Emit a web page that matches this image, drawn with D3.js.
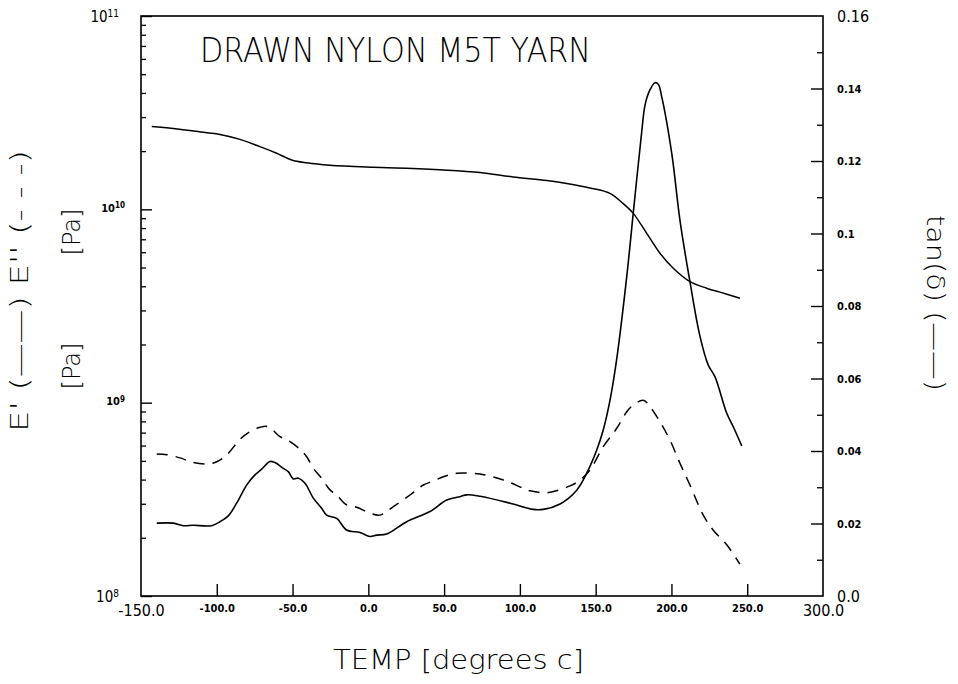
<!DOCTYPE html>
<html>
<head>
<meta charset="utf-8">
<script src="https://cdn.jsdelivr.net/npm/d3@7"></script>
<style>
  html, body { margin: 0; padding: 0; background: #fff; }
  svg { display: block; }
  .tick text { fill: #000; }
</style>
</head>
<body>
<svg id="chart" width="958" height="684"></svg>
<script>
// Storage modulus E' (Pa) vs temperature (°C)
const tempStorage = [-142.9, -128.7, -106.6, -97.9, -84.7, -71.5, -60.5, -50.6, -40.7, -25.3, 3.3, 25.3, 47.3, 73.7, 95.4, 117.7, 130.9, 146.2, 159.4, 168.2, 174.8, 183.7, 192.4, 201.2, 212.2, 223.2, 232.0, 245.2];
const storageModulus = [2.68e10, 2.62e10, 2.49e10, 2.44e10, 2.30e10, 2.11e10, 1.95e10, 1.80e10, 1.74e10, 1.69e10, 1.65e10, 1.63e10, 1.60e10, 1.55e10, 1.47e10, 1.41e10, 1.36e10, 1.29e10, 1.21e10, 1.07e10, 9.53e9, 7.51e9, 5.93e9, 4.96e9, 4.23e9, 3.91e9, 3.73e9, 3.47e9];

// Loss modulus E'' (Pa) vs temperature (°C)
const tempLoss = [-139.6, -133.0, -123.1, -117.7, -105.6, -100.1, -93.5, -84.7, -78.1, -71.5, -66.1, -58.3, -52.8, -45.1, -40.7, -36.3, -30.8, -25.3, -20.9, -14.3, -7.7, 1.1, 7.7, 16.5, 27.5, 36.3, 42.9, 49.5, 58.3, 69.3, 73.7, 89.1, 102.2, 106.7, 117.7, 133.1, 139.7, 146.3, 155.0, 163.9, 170.5, 174.8, 181.4, 185.8, 192.4, 199.0, 205.6, 212.2, 221.0, 227.6, 236.5, 245.2];
const lossModulus = [5.43e8, 5.38e8, 5.15e8, 4.95e8, 4.82e8, 4.95e8, 5.36e8, 6.46e8, 7.08e8, 7.46e8, 7.51e8, 6.67e8, 6.36e8, 5.74e8, 5.25e8, 4.58e8, 4.06e8, 3.54e8, 3.33e8, 2.96e8, 2.88e8, 2.68e8, 2.62e8, 2.90e8, 3.33e8, 3.75e8, 3.93e8, 4.14e8, 4.31e8, 4.31e8, 4.28e8, 3.98e8, 3.61e8, 3.50e8, 3.42e8, 3.71e8, 3.98e8, 4.49e8, 5.92e8, 7.37e8, 8.98e8, 9.72e8, 1.03e9, 9.53e8, 7.97e8, 6.41e8, 4.86e8, 3.75e8, 2.62e8, 2.19e8, 1.84e8, 1.46e8];

// Loss tangent tan(δ) vs temperature (°C)
const tempTan = [-139.6, -128.7, -122.1, -115.5, -103.4, -97.9, -92.4, -86.9, -80.3, -74.8, -70.4, -64.9, -61.6, -56.1, -52.8, -49.5, -46.2, -41.8, -36.3, -30.8, -27.5, -20.9, -14.3, -5.5, 1.1, 5.5, 12.1, 25.3, 40.7, 51.7, 60.5, 64.9, 73.7, 93.5, 108.8, 115.4, 126.5, 137.5, 144.1, 150.7, 155.0, 159.5, 163.9, 170.5, 174.8, 180.4, 182.6, 185.8, 189.1, 191.3, 193.6, 200.2, 205.6, 212.2, 218.8, 224.3, 228.7, 236.5, 240.8, 246.4];
const tanDelta = [0.0201, 0.0201, 0.0194, 0.0195, 0.0194, 0.0205, 0.0221, 0.0256, 0.0306, 0.0334, 0.0350, 0.0371, 0.0368, 0.0352, 0.0343, 0.0323, 0.0325, 0.0311, 0.0270, 0.0242, 0.0223, 0.0214, 0.0182, 0.0175, 0.0164, 0.0168, 0.0171, 0.0205, 0.0233, 0.0265, 0.0274, 0.0279, 0.0275, 0.0256, 0.0239, 0.0239, 0.0254, 0.0292, 0.0339, 0.0403, 0.0458, 0.0541, 0.0654, 0.0881, 0.1056, 0.1281, 0.1355, 0.1396, 0.1416, 0.1412, 0.1377, 0.1221, 0.1037, 0.0867, 0.0717, 0.0637, 0.0605, 0.0504, 0.0467, 0.0414];

// Axis ticks
const tempTicks = [-150, -100, -50, 0, 50, 100, 150, 200, 250, 300];
const tempTickLabels = ["-150.0", "-100.0", "-50.0", "0.0", "50.0", "100.0", "150.0", "200.0", "250.0", "300.0"];
const modulusDecades = [1e8, 1e9, 1e10, 1e11];
const modulusExponents = ["8", "9", "10", "11"];
const tanTicks = [0, 0.02, 0.04, 0.06, 0.08, 0.1, 0.12, 0.14, 0.16];
const tanTickLabels = ["0.0", "0.02", "0.04", "0.06", "0.08", "0.1", "0.12", "0.14", "0.16"];
const tanMinorTicks = [0.01, 0.03, 0.05, 0.07, 0.09, 0.11, 0.13, 0.15];

const svg = d3.select("#chart");
const L = 141, T = 16, W = 682, H = 580;
const R = L + W, B = T + H;

const x = d3.scaleLinear().domain([-150, 300]).range([L, R]);
const yMod = d3.scaleLog().domain([1e8, 1e11]).range([B, T]);
const yTan = d3.scaleLinear().domain([0, 0.16]).range([B, T]);

const narrow = "'Liberation Sans Narrow', 'DejaVu Sans Condensed', sans-serif";
const light = "'DejaVu Sans', 'Lato', sans-serif";

// Frame
svg.append("rect")
  .attr("x", L).attr("y", T).attr("width", W).attr("height", H)
  .attr("fill", "none").attr("stroke", "#000").attr("stroke-width", 1.6);

// Bottom axis: ticks point inward
const xAxis = svg.append("g")
  .attr("transform", `translate(0,${B})`)
  .call(d3.axisBottom(x).tickValues(tempTicks).tickSize(-12).tickPadding(6)
    .tickFormat((d, i) => tempTickLabels[i]));
xAxis.select(".domain").remove();
xAxis.selectAll(".tick line").attr("stroke", "#000").attr("stroke-width", 1.4);
xAxis.selectAll(".tick text")
  .attr("font-family", narrow)
  .attr("font-size", (d, i) => (i === 0 || i === tempTicks.length - 1) ? 16 : 11)
  .attr("font-weight", (d, i) => (i === 0 || i === tempTicks.length - 1) ? 400 : 700)
  .attr("dy", (d, i) => (i === 0 || i === tempTicks.length - 1) ? "0.85em" : "0.9em");
xAxis.selectAll(".tick").filter((d, i) => i === 0 || i === tempTicks.length - 1).select("line").remove();

// Left log axis: minor ticks
const minorMod = [];
[1e8, 1e9, 1e10].forEach(dec => { for (let k = 2; k <= 9; k++) minorMod.push(dec * k); });
const yMinor = svg.append("g")
  .attr("transform", `translate(${L},0)`)
  .call(d3.axisLeft(yMod).tickValues(minorMod).tickSize(-5).tickFormat(""));
yMinor.select(".domain").remove();
yMinor.selectAll(".tick line").attr("stroke", "#000").attr("stroke-width", 1.3);

// Left log axis: decades
const yMajor = svg.append("g")
  .attr("transform", `translate(${L},0)`)
  .call(d3.axisLeft(yMod).tickValues(modulusDecades).tickSize(-11).tickPadding(18).tickFormat(""));
yMajor.select(".domain").remove();
yMajor.selectAll(".tick line").attr("stroke", "#000").attr("stroke-width", 1.4);
yMajor.selectAll(".tick").each(function (d, i) {
  const big = (i === 0 || i === modulusDecades.length - 1);
  const t = d3.select(this).select("text")
    .attr("x", big ? -22 : -16)
    .attr("dy", big ? "0.35em" : "0.2em")
    .attr("font-family", narrow)
    .attr("font-size", big ? 15 : 11)
    .attr("font-weight", big ? 400 : 700);
  t.append("tspan").text("10");
  t.append("tspan").attr("dy", "-0.45em").attr("font-size", big ? 10 : 8).text(modulusExponents[i]);
});

// Right linear axis for tan(δ)
const yRMinor = svg.append("g")
  .attr("transform", `translate(${R},0)`)
  .call(d3.axisRight(yTan).tickValues(tanMinorTicks).tickSize(-6).tickFormat(""));
yRMinor.select(".domain").remove();
yRMinor.selectAll(".tick line").attr("stroke", "#000").attr("stroke-width", 1.3);

const yRight = svg.append("g")
  .attr("transform", `translate(${R},0)`)
  .call(d3.axisRight(yTan).tickValues(tanTicks).tickSize(-12).tickPadding(14)
    .tickFormat((d, i) => tanTickLabels[i]));
yRight.select(".domain").remove();
yRight.selectAll(".tick line").attr("stroke", "#000").attr("stroke-width", 1.4);
yRight.selectAll(".tick").filter((d, i) => i === 0 || i === tanTicks.length - 1).select("line").remove();
yRight.selectAll(".tick text")
  .attr("font-family", narrow)
  .attr("font-size", (d, i) => (i === 0 || i === tanTicks.length - 1) ? 16 : 11)
  .attr("font-weight", (d, i) => (i === 0 || i === tanTicks.length - 1) ? 400 : 700)
  .attr("dy", "0.35em");

// Curves
const lineMod = d3.line().x(d => x(d[0])).y(d => yMod(d[1])).curve(d3.curveCatmullRom.alpha(0.5));
const lineTan = d3.line().x(d => x(d[0])).y(d => yTan(d[1])).curve(d3.curveCatmullRom.alpha(0.5));

svg.append("path")
  .datum(d3.zip(tempStorage, storageModulus))
  .attr("d", lineMod)
  .attr("fill", "none").attr("stroke", "#000").attr("stroke-width", 1.5);

svg.append("path")
  .datum(d3.zip(tempLoss, lossModulus))
  .attr("d", lineMod)
  .attr("fill", "none").attr("stroke", "#000").attr("stroke-width", 1.5)
  .attr("stroke-dasharray", "11,8");

svg.append("path")
  .datum(d3.zip(tempTan, tanDelta))
  .attr("d", lineTan)
  .attr("fill", "none").attr("stroke", "#000").attr("stroke-width", 1.6);

// Titles
svg.append("text")
  .attr("x", 200).attr("y", 62)
  .attr("font-family", light).attr("font-weight", 200).attr("font-size", 33)
  .attr("textLength", 391).attr("lengthAdjust", "spacingAndGlyphs")
  .text("DRAWN NYLON M5T YARN");

svg.append("text")
  .attr("x", 333).attr("y", 669)
  .attr("font-family", light).attr("font-weight", 200).attr("font-size", 27)
  .attr("textLength", 251).attr("lengthAdjust", "spacingAndGlyphs")
  .text("TEMP [degrees c]");

svg.append("text")
  .attr("transform", "translate(28,291) rotate(-90)")
  .attr("text-anchor", "middle")
  .attr("font-family", light).attr("font-weight", 200).attr("font-size", 24)
  .attr("textLength", 282).attr("lengthAdjust", "spacingAndGlyphs")
  .text("E' (——) E'' (- - -)");

svg.append("text")
  .attr("transform", "translate(80,232) rotate(-90)")
  .attr("text-anchor", "middle")
  .attr("font-family", light).attr("font-weight", 200).attr("font-size", 24)
  .text("[Pa]");

svg.append("text")
  .attr("transform", "translate(80,366) rotate(-90)")
  .attr("text-anchor", "middle")
  .attr("font-family", light).attr("font-weight", 200).attr("font-size", 24)
  .text("[Pa]");

svg.append("text")
  .attr("transform", "translate(927,303) rotate(90)")
  .attr("text-anchor", "middle")
  .attr("font-family", light).attr("font-weight", 200).attr("font-size", 24)
  .attr("textLength", 176).attr("lengthAdjust", "spacingAndGlyphs")
  .text("tan(δ) (——)");
</script>
</body>
</html>
